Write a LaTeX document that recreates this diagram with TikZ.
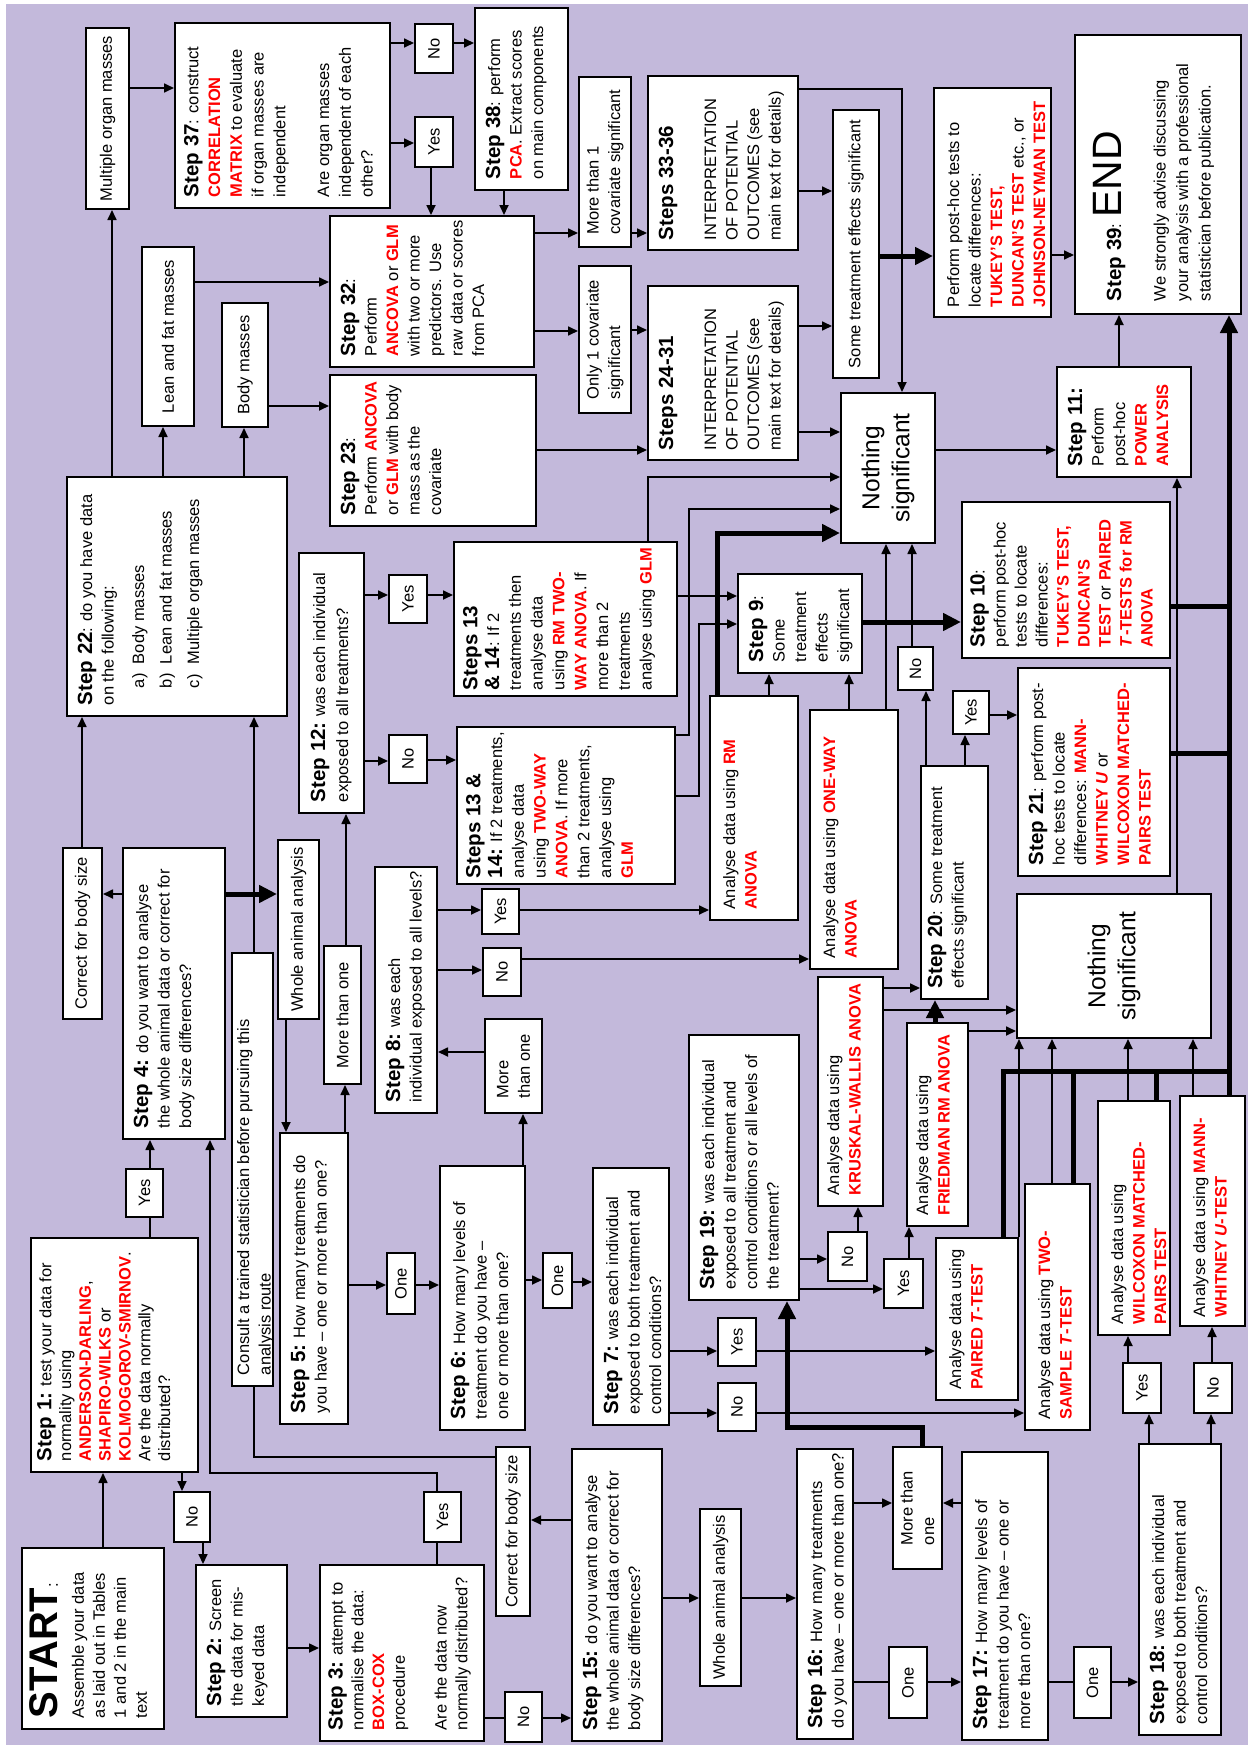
\documentclass[tikz,border=0pt]{standalone}
\usepackage{fontspec}
\setmainfont{Liberation Sans}
\usetikzlibrary{arrows.meta}
\definecolor{bg}{RGB}{195,185,219}
\definecolor{rd}{RGB}{255,0,0}
\newcommand\RD[1]{\textcolor{rd}{\textbf{#1}}}
\newcommand\STP[1]{{\fontsize{20.5}{22}\selectfont\bfseries #1}}
\def\padx{11}\def\pady{10}
% top-left text box: name, x1, x2, y1, y2 (reference pixels), text
\newcommand\TB[7][]{\node[tbox,inner xsep=\padx pt,inner ysep=\pady pt,#1] (#2) at (-#6,-#3)
 {\parbox[t][\dimexpr #4pt-#3pt-\pady pt-\pady pt\relax][t]{\dimexpr #6pt-#5pt-\padx pt-\padx pt\relax}{\begin{tabular}[t]{@{}l@{}}#7\end{tabular}}};}
% centred box
\newcommand\CB[7][]{\node[cbox,minimum width={(#6-#5)*1pt},minimum height={(#4-#3)*1pt},#1] (#2) at ({-(#5+#6)/2},{-(#3+#4)/2}) {#7};}
% connectors in reference directions
\newcommand\cHR[4]{\draw[#1] (#2.south -| -#4,0) -- (#3.north -| -#4,0);}
\newcommand\cHL[4]{\draw[#1] (#2.north -| -#4,0) -- (#3.south -| -#4,0);}
\newcommand\cVU[4]{\draw[#1] (#2.east |- 0,-#4) -- (#3.west |- 0,-#4);}
\newcommand\cVD[4]{\draw[#1] (#2.west |- 0,-#4) -- (#3.east |- 0,-#4);}
\tikzset{
 tbox/.style={draw, fill=white, line width=2pt, anchor=north west},
 cbox/.style={draw, fill=white, line width=2pt, inner sep=0pt, align=center},
 arr/.style={line width=1.7pt, -{Triangle[length=10pt,width=9pt]}},
 ln/.style={line width=1.7pt},
 tarr/.style={line width=5pt, -{Triangle[length=18pt,width=17pt]}},
 tln/.style={line width=5pt},
 big/.style={font=\fontsize{24.5}{30}\selectfont},
}
\begin{document}
\begin{tikzpicture}[x=1pt,y=1pt,rotate=90,transform shape,font=\fontsize{16.5}{21.5}\selectfont]
\useasboundingbox (0,0) rectangle (-1745,-1248);
\fill[white] (0,0) rectangle (-1745,-1248);
\fill[bg] (-4,-6) rectangle (-1745,-1248);

% ---------- boxes ----------
{\def\pady{8}\TB[font=\fontsize{16.5}{21}\selectfont]{start}{21}{163}{1549}{1730}{{\fontsize{40}{40}\selectfont\bfseries START}:\\[5pt] Assemble your data\\ as laid out in Tables\\ 1 and 2 in the main\\ text}}
{\def\pady{6}\TB[font=\fontsize{16.5}{19.8}\selectfont]{s1}{30}{197}{1239}{1473}{\STP{Step 1:} test your data for\\ normality using\\ \RD{ANDERSON-DARLING},\\ \RD{SHAPIRO-WILKS} or\\ \RD{KOLMOGOROV-SMIRNOV}.\\ Are the data normally\\ distributed?}}
\CB{no1}{174}{210}{1492}{1542}{No}
\TB{s2}{195}{286}{1566}{1718}{\STP{Step 2:} Screen\\ the data for mis-\\ keyed data}
{\def\pady{8}\TB[font=\fontsize{16.5}{20.8}\selectfont]{s3}{319}{483}{1566}{1742}{\STP{Step 3:} attempt to\\ normalise the data:\\ \RD{BOX-COX}\\ procedure\\ \\ Are the data now\\ normally distributed?}}
\CB{yes3}{424}{461}{1492}{1542}{Yes}
\CB{no3}{505}{542}{1692}{1742}{No}
\CB{cbs15}{496}{530}{1447}{1616}{Correct for body size}
\TB{s15}{571}{661}{1450}{1742}{\STP{Step 15:} do you want to analyse\\ the whole animal data or correct for\\ body size differences?}
\CB{wa15}{700}{741}{1509}{1686}{Whole animal analysis}
\TB{s16}{796}{852}{1450}{1740}{\STP{Step 16:} How many treatments\\ do you have – one or more than one?}
\CB{one16}{889}{927}{1647}{1718}{One}
\CB[align=left]{mto17}{893}{942}{1447}{1569}{More than\\ one}
\TB{s17}{961}{1047}{1453}{1741}{\STP{Step 17:} How many levels of\\ treatment do you have – one or\\ more than one?}
\CB{one17}{1074}{1111}{1647}{1718}{One}
\TB{s18}{1138}{1220}{1445}{1736}{\STP{Step 18:} was each individual\\ exposed to both treatment and\\ control conditions?}
\CB{yes18}{1123}{1161}{1363}{1413}{Yes}
\CB{no18}{1194}{1232}{1363}{1413}{No}
\TB{wil}{1097}{1169}{1102}{1336}{Analyse data using\\ \RD{WILCOXON MATCHED-}\\ \RD{PAIRS TEST}}
{\def\padx{9}\TB{mw}{1179}{1244}{1097}{1327}{Analyse data using \RD{MANN-}\\ \RD{WHITNEY \textit{U}-TEST}}}
\TB{ts}{1024}{1089}{1185}{1431}{Analyse data using \RD{TWO-}\\ \RD{SAMPLE \textit{T}-TEST}}
\TB{pt}{935}{1017}{1239}{1401}{Analyse data using\\ \RD{PAIRED \textit{T}-TEST}}
\CB{yes7}{718}{756}{1318}{1366}{Yes}
\CB{no7}{718}{756}{1383}{1431}{No}
\TB{s7}{592}{668}{1169}{1426}{\STP{Step 7:} was each individual\\ exposed to both treatment and\\ control conditions?}
\CB{one6}{543}{572}{1253}{1308}{One}
\TB{s6}{439}{524}{1167}{1431}{\STP{Step 6:} How many levels of\\ treatment do you have –\\ one or more than one?}
\CB[align=left]{mto6}{485}{542}{1019}{1113}{More\\ than one}
\CB{one5}{387}{415}{1253}{1314}{One}
\TB{s5}{279}{347}{1134}{1425}{\STP{Step 5:} How many treatments do\\ you have – one or more than one?}
\CB{mto5}{324}{361}{946}{1084}{More than one}
{\def\pady{2}\TB{consult}{231}{272}{954}{1387}{Consult a trained statistician before pursuing this\\ analysis route}}
\CB{yes1}{126}{163}{1169}{1217}{Yes}
\TB{s4}{122}{224}{849}{1140}{\STP{Step 4:} do you want to analyse\\ the whole animal data or correct for\\ body size differences?}
\CB{cbs4}{63}{102}{848}{1019}{Correct for body size}
\CB{wa4}{278}{319}{840}{1019}{Whole animal analysis}
\TB{s8}{374}{436}{868}{1114}{\STP{Step 8:} was each\\ individual exposed to all levels?}
\CB{yes8}{482}{519}{889}{934}{Yes}
\CB{no8}{483}{521}{948}{996}{No}
\TB{rm}{709}{797}{697}{921}{Analyse data using \RD{RM}\\ \RD{ANOVA}}
\TB{ow}{809}{897}{711}{970}{Analyse data using \RD{ONE-WAY}\\ \RD{ANOVA}}
\TB{s19}{688}{798}{1036}{1301}{\STP{Step 19:} was each individual\\ exposed to all treatment and\\ control conditions or all levels of\\ the treatment?}
\CB{no19}{828}{867}{1232}{1281}{No}
\CB{yes19}{884}{923}{1259}{1308}{Yes}
{\def\pady{6}\TB{kw}{817}{882}{978}{1207}{Analyse data using\\ \RD{KRUSKAL-WALLIS ANOVA}}}
{\def\pady{6}\TB{fr}{906}{967}{1024}{1227}{Analyse data using\\ \RD{FRIEDMAN RM ANOVA}}}
{\def\pady{6}\TB{s20}{920}{987}{767}{1000}{\STP{Step 20}: Some treatment\\ effects significant}}
\CB[big]{ns2}{1017}{1211}{894}{1038}{Nothing\\ significant}
\CB{no20}{898}{933}{647}{690}{No}
\CB{yes20}{953}{989}{691}{734}{Yes}
\TB{s21}{1017}{1169}{669}{877}{\STP{Step 21}: perform post-\\ hoc tests to locate\\ differences: \RD{MANN-}\\ \RD{WHITNEY \textit{U}} or\\ \RD{WILCOXON MATCHED-}\\ \RD{PAIRS TEST}}
{\def\pady{8}\TB[font=\fontsize{16.5}{21}\selectfont]{s10}{961}{1169}{503}{659}{\STP{Step 10}:\\ perform post-hoc\\ tests to locate\\ differences:\\ \RD{TUKEY’S TEST,}\\ \RD{DUNCAN’S}\\ \RD{TEST} or \RD{PAIRED}\\ \RD{\textit{T}-TESTS for RM}\\ \RD{ANOVA}}}
\TB{s9}{737}{861}{575}{674}{\STP{Step 9}:\\ Some\\ treatment\\ effects\\ significant}
{\def\pady{8}\def\padx{6}\TB[font=\fontsize{16.5}{21.8}\selectfont]{s1314y}{453}{676}{543}{697}{\STP{Steps 13}\\ \STP{\& 14}: If 2\\ treatments then\\ analyse data\\ using \RD{RM TWO-}\\ \RD{WAY ANOVA}. If\\ more than 2\\ treatments\\ analyse using \RD{GLM}}}
{\def\pady{8}\def\padx{6}\TB[font=\fontsize{16.5}{21.8}\selectfont]{s1314n}{456}{674}{728}{885}{\STP{Steps 13 \&}\\ \STP{14:} If 2 treatments,\\ analyse data\\ using \RD{TWO-WAY}\\ \RD{ANOVA}. If more\\ than 2 treatments,\\ analyse using\\ \RD{GLM}}}
\TB[font=\fontsize{16.5}{23}\selectfont]{s12}{298}{363}{554}{814}{\STP{Step 12:} was each individual\\ exposed to all treatments?}
\CB{yes12}{389}{427}{575}{623}{Yes}
\CB{no12}{389}{427}{735}{783}{No}
\TB{s22}{66}{286}{478}{717}{\STP{Step 22}: do you have data\\ on the following:\\[9pt] \hspace*{17pt}\makebox[24pt][l]{a)}Body masses\\[6pt] \hspace*{17pt}\makebox[24pt][l]{b)}Lean and fat masses\\[6pt] \hspace*{17pt}\makebox[24pt][l]{c)}Multiple organ masses}
\CB{mom}{86}{129}{28}{209}{Multiple organ masses}
\CB{lfm}{142}{194}{247}{426}{Lean and fat masses}
\CB{bm}{222}{268}{303}{427}{Body masses}
{\def\pady{8}\TB[font=\fontsize{16.5}{21.8}\selectfont]{s37}{174}{389}{24}{209}{\STP{Step 37}: construct\\ \RD{CORRELATION}\\ \RD{MATRIX} to evaluate\\ if organ masses are\\ independent\\ \\ Are organ masses\\ independent of each\\ other?}}
\CB{no37}{415}{453}{24}{73}{No}
\CB{yes37}{415}{453}{117}{167}{Yes}
\TB{s38}{474}{567}{9}{191}{\STP{Step 38}: perform\\ \RD{PCA}. Extract scores\\ on main components}
\TB{s32}{329}{533}{217}{368}{\STP{Step 32}:\\ Perform\\ \RD{ANCOVA} or \RD{GLM}\\ with two or more\\ predictors. Use\\ raw data or scores\\ from PCA}
\TB{s23}{329}{535}{376}{527}{\STP{Step 23}:\\ Perform \RD{ANCOVA}\\ or \RD{GLM} with body\\ mass as the\\ covariate}
\CB[align=left]{m1}{579}{631}{77}{247}{More than 1\\ covariate significant}
\CB[align=left]{o1}{579}{631}{266}{413}{Only 1 covariate\\ significant}
{\def\padx{10}\TB{s3336}{647}{797}{77}{251}{\STP{Steps 33-36}\\ \\ INTERPRETATION\\ OF POTENTIAL\\ OUTCOMES (see\\ main text for details)}}
{\def\padx{10}\TB{s2431}{647}{797}{287}{461}{\STP{Steps 24-31}\\ \\ INTERPRETATION\\ OF POTENTIAL\\ OUTCOMES (see\\ main text for details)}}
\CB{sig}{833}{879}{110}{378}{Some treatment effects significant}
\CB[big]{ns1}{841}{935}{393}{543}{Nothing\\ significant}
\TB{s11}{1056}{1190}{368}{478}{\STP{Step 11:}\\ Perform\\ post-hoc\\ \RD{POWER}\\ \RD{ANALYSIS}}
{\def\padx{10}\TB{ph}{933}{1050}{89}{318}{Perform post-hoc tests to\\ locate differences:\\ \RD{TUKEY’S TEST,}\\ \RD{DUNCAN’S TEST} etc., or\\ \RD{JOHNSON-NEYMAN TEST}}}
{\def\padx{13}\def\pady{7}\TB[font=\fontsize{16.5}{22.5}\selectfont]{s39}{1074}{1240}{36}{315}{\rule{0pt}{39pt}\STP{Step 39}: {\fontsize{41}{41}\selectfont END}\\[22pt] We strongly advise discussing\\ your analysis with a professional\\ statistician before publication.}}

% ---------- connectors ----------
\cVU{arr}{start}{s1}{103}
\cVD{arr}{s1}{no1}{182}
\cVD{arr}{no1}{s2}{203}
\cHR{arr}{s2}{s3}{1648}
\cVU{ln}{s1}{yes1}{150}
\cVU{arr}{yes1}{s4}{150}
\cVU{ln}{s3}{yes3}{437}
\draw[arr] (yes3.east |- 0,-437) -- (-1473,-437) -- (-1473,-210) -- (s4.west |- 0,-210);
\cHR{ln}{s3}{no3}{1718}
\cHR{arr}{no3}{s15}{1718}
\cHL{arr}{s15}{cbs15}{1520}
\draw[ln] (cbs15.north -| -1457,0) -- (-1457,-254) -- (consult.west |- 0,-254);
\cVU{arr}{consult}{s22}{254}
\cHR{arr}{s15}{wa15}{1598}
\cHR{arr}{wa15}{s16}{1598}
\cHR{arr}{s16}{mto17}{1503}
\cHL{arr}{s17}{mto17}{1503}
\cHR{ln}{s16}{one16}{1682}
\cHR{arr}{one16}{s17}{1682}
\cHR{ln}{s17}{one17}{1682}
\cHR{arr}{one17}{s18}{1682}
\cVU{arr}{s18}{yes18}{1149}
\cVU{arr}{yes18}{wil}{1128}
\cVU{arr}{s18}{no18}{1211}
\cVU{arr}{no18}{mw}{1212}
\draw[tarr] (mto17.east |- 0,-922) -- (-1427,-922) -- (-1427,-787) -- (s19.west |- 0,-787);
\cHR{arr}{s6}{one6}{1280}
\cHR{arr}{one6}{s7}{1282}
\cHR{arr}{s7}{yes7}{1351}
\cHR{arr}{yes7}{pt}{1351}
\cHR{arr}{s7}{no7}{1413}
\cHR{arr}{no7}{ts}{1413}
\cHR{arr}{s5}{one5}{1285}
\cHR{arr}{one5}{s6}{1285}
\cVU{arr}{s5}{mto5}{345}
\cVU{arr}{mto5}{s12}{346}
\cHL{arr}{s4}{cbs4}{894}
\cHR{tarr}{s4}{wa4}{894}
\cVD{arr}{wa4}{s5}{286}
\cVU{arr}{cbs4}{s22}{82}
\cVU{arr}{s6}{mto6}{523}
\cHL{arr}{mto6}{s8}{1052}
\cHR{arr}{s8}{yes8}{910}
\cHR{arr}{yes8}{rm}{910}
\cHR{arr}{s8}{no8}{970}
\cHR{arr}{no8}{ow}{959}
\cHR{arr}{s12}{yes12}{595}
\cHR{arr}{yes12}{s1314y}{595}
\cHR{arr}{s12}{no12}{761}
\cHR{arr}{no12}{s1314n}{760}
\cHR{arr}{s1314y}{s9}{596}
\draw[arr] (s1314y.east |- 0,-648) -- (-477,-648) -- (ns1.north -| -477,0);
\draw[arr] (s1314n.south -| -735,0) -- (-735,-689) -- (-509,-689) -- (ns1.north -| -509,0);
\draw[arr] (s1314n.south -| -796,0) -- (-796,-699) -- (-624,-699) -- (s9.north -| -624,0);
\draw[tarr] (rm.east |- 0,-717) -- (-533,-717) -- (ns1.north -| -533,0);
\cVU{arr}{rm}{s9}{769}
\cVU{arr}{ow}{s9}{849}
\cVU{arr}{ow}{ns1}{886}
\cHR{tarr}{s9}{s10}{622}
\cVU{arr}{s20}{no20}{926}
\cVU{arr}{no20}{ns1}{912}
\cVU{arr}{s20}{yes20}{965}
\cHR{arr}{yes20}{s21}{715}
\draw[tln] (s10.south -| -606,0) -- (-606,-1229);
\draw[tln] (s21.south -| -753,0) -- (-753,-1229);
\cVU{tarr}{mw}{s39}{1229}
\draw[tln] (pt.east |- 0,-1003) -- (-1071,-1003) -- (-1071,-1229);
\draw[tln] (ts.east |- 0,-1073) -- (-1071,-1073);
\draw[tln] (wil.east |- 0,-1156) -- (-1071,-1156);
\cVU{arr}{pt}{ns2}{1019}
\cVU{arr}{ts}{ns2}{1052}
\cVU{arr}{wil}{ns2}{1128}
\cVU{arr}{mw}{ns2}{1193}
\cHR{arr}{kw}{s20}{988}
\cHR{arr}{kw}{ns2}{1010}
\cVU{tarr}{fr}{s20}{935}
\cHR{arr}{fr}{ns2}{1031}
\cHR{arr}{s19}{no19}{1259}
\cVU{arr}{no19}{kw}{858}
\cHR{arr}{s19}{yes19}{1289}
\cVU{arr}{yes19}{fr}{909}
\cVU{arr}{ns2}{s11}{1177}
\cHR{arr}{ns1}{s11}{450}
\cVU{arr}{s11}{s39}{1119}
\cHR{tarr}{sig}{ph}{256}
\cHR{arr}{ph}{s39}{255}
\cHR{arr}{s3336}{sig}{191}
\cHR{arr}{s2431}{sig}{326}
\draw[arr] (s3336.south -| -89,0) -- (-89,-902) -- (ns1.east |- 0,-902);
\cHR{arr}{s2431}{ns1}{432}
\cHR{arr}{s23}{s2431}{450}
\cHR{arr}{s32}{m1}{233}
\cHR{arr}{s32}{o1}{331}
\cHR{arr}{m1}{s3336}{233}
\cHR{arr}{o1}{s2431}{330}
\cVD{arr}{s38}{s32}{504}
\cVD{arr}{yes37}{s32}{431}
\cHR{arr}{no37}{s38}{43}
\cHR{arr}{s37}{no37}{43}
\cHR{arr}{s37}{yes37}{143}
\cHR{arr}{mom}{s37}{88}
\cVU{arr}{s22}{mom}{112}
\cVU{arr}{s22}{lfm}{163}
\cVU{arr}{s22}{bm}{244}
\cHR{arr}{lfm}{s32}{282}
\cHR{arr}{bm}{s23}{406}
\end{tikzpicture}
\end{document}
